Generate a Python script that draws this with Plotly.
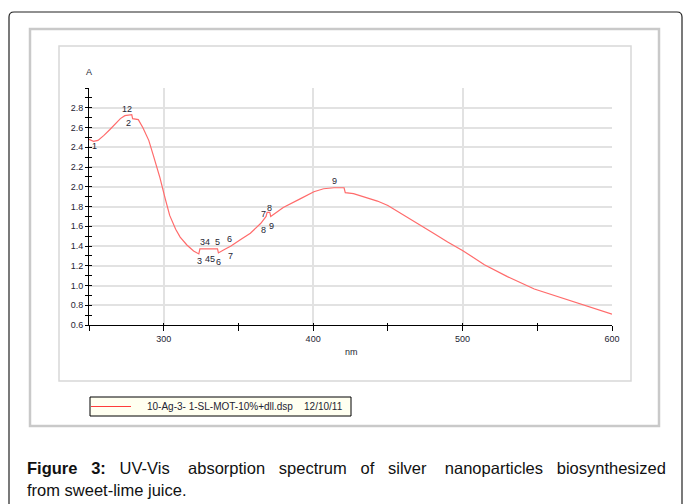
import plotly.graph_objects as go

# ---- data ----
wavelength_nm = [250, 253, 256, 260, 264, 268, 271, 274, 278.6, 279.2, 283, 286, 290, 293,
                 297.5, 301, 304, 308, 311, 315.5, 320, 323.5, 324.2, 336, 336.6, 340, 345,
                 351, 358, 365, 368.5, 369.2, 371, 371.6, 380, 391.6, 400.5, 407, 414, 420.7,
                 421.5, 427, 436, 443, 450, 460, 470, 480, 490, 500.5, 514.6, 530, 548, 560,
                 575, 588.5, 600]
absorbance = [2.48, 2.46, 2.47, 2.52, 2.58, 2.64, 2.69, 2.72, 2.73, 2.69, 2.68, 2.60, 2.47, 2.32,
              2.09, 1.88, 1.71, 1.57, 1.49, 1.41, 1.35, 1.32, 1.37, 1.37, 1.33, 1.36, 1.40,
              1.46, 1.53, 1.63, 1.70, 1.74, 1.74, 1.70, 1.79, 1.88, 1.95, 1.98, 1.99, 1.99,
              1.94, 1.93, 1.89, 1.855, 1.81, 1.72, 1.63, 1.535, 1.44, 1.35, 1.21, 1.09, 0.965, 0.905,
              0.83, 0.76, 0.71]

peak_text = ["1", "12", "2", "34", "5", "6", "3", "45", "6", "7", "7", "8", "8", "9", "9"]
peak_x = [254, 275.6, 276.2, 327.9, 335.7, 344, 324, 331.2, 336.8, 344.6, 366.6, 370.8, 367, 372.1, 414.4]
peak_y = [2.41, 2.79, 2.65, 1.437, 1.44, 1.467, 1.246, 1.27, 1.243, 1.30, 1.72, 1.78, 1.56, 1.60, 2.06]

x_ticks = [300, 400, 500, 600]
y_ticks = [0.6, 0.8, 1.0, 1.2, 1.4, 1.6, 1.8, 2.0, 2.2, 2.4, 2.6, 2.8]
y_labels = ["%.1f" % v for v in y_ticks]

series_name = "10-Ag-3- 1-SL-MOT-10%+dll.dsp&nbsp;&nbsp;&nbsp;&nbsp;12/10/11"

S3 = "&nbsp;&nbsp;&nbsp; "
S2 = "&nbsp;&nbsp; "
caption_line1 = ("<b>Figure" + S2 + "3:</b>" + S2 + "UV-Vis" + S3 + "absorption" + S2 + "spectrum" + S2 +
                 "of" + S2 + "silver" + S3 + "nanoparticles" + S2 + "biosynthesized")
caption_line2 = "from sweet-lime juice."

# ---- layout geometry ----
WIDTH, HEIGHT = 683, 504
L, T, PW, PH = 89, 88, 523, 237


def fx(px):
    return (px - L) / PW


def fy(py):
    return (T + PH - py) / PH


FONT = "Liberation Sans, Arial, sans-serif"
TXT = "#1e2433"
CURVE = "#ff6b6b"

fig = go.Figure()
fig.add_trace(go.Scatter(x=wavelength_nm, y=absorbance, mode="lines",
                         line=dict(color=CURVE, width=1.2),
                         name="spectrum", showlegend=False, hoverinfo="skip"))
# invisible trace to carry the crossing (inside) tick marks
fig.add_trace(go.Scatter(x=wavelength_nm, y=absorbance, mode="none", xaxis="x2", yaxis="y2",
                         showlegend=False, hoverinfo="skip"))

for t, xv, yv in zip(peak_text, peak_x, peak_y):
    fig.add_annotation(x=xv, y=yv, text=t, showarrow=False,
                       font=dict(family=FONT, size=9, color=TXT))

fig.add_annotation(xref="paper", yref="paper", x=0, y=fy(72), xanchor="center", yanchor="middle",
                   text="A", showarrow=False, font=dict(family=FONT, size=9, color=TXT))
fig.add_annotation(xref="paper", yref="paper", x=fx(351), y=fy(359), text="nm", showarrow=False,
                   font=dict(family=FONT, size=9, color=TXT))
fig.add_annotation(xref="paper", yref="paper", x=fx(25), y=fy(468), xanchor="left", yanchor="middle",
                   text=caption_line1, showarrow=False, align="left",
                   font=dict(family=FONT, size=16.5, color="#111"))
fig.add_annotation(xref="paper", yref="paper", x=fx(25), y=fy(490), xanchor="left", yanchor="middle",
                   text=caption_line2, showarrow=False, align="left",
                   font=dict(family=FONT, size=16.5, color="#111"))

# frames
fig.add_shape(type="rect", xref="paper", yref="paper", x0=fx(30), x1=fx(659), y0=fy(29), y1=fy(426),
              line=dict(color="#c9c9c9", width=2.5), layer="below")
fig.add_shape(type="rect", xref="paper", yref="paper", x0=fx(59), x1=fx(631), y0=fy(46), y1=fy(381),
              line=dict(color="#d8d8d8", width=1.5), layer="below")
r = 5
path = (f"M {fx(9)},{fy(520)} L {fx(9)},{fy(12 + r)} Q {fx(9)},{fy(12)} {fx(9 + r)},{fy(12)} "
        f"L {fx(682 - r)},{fy(12)} Q {fx(682)},{fy(12)} {fx(682)},{fy(12 + r)} L {fx(682)},{fy(520)}")
fig.add_shape(type="path", xref="paper", yref="paper", path=path,
              line=dict(color="#222", width=1.2), layer="below")

# legend box (drawn as decoration)
fig.add_shape(type="rect", xref="paper", yref="paper", x0=fx(90), x1=fx(351), y0=fy(397), y1=fy(416),
              line=dict(color="black", width=1), fillcolor="#fffff0", layer="above")
fig.add_shape(type="line", xref="paper", yref="paper", x0=fx(91), x1=fx(131), y0=fy(406.5), y1=fy(406.5),
              line=dict(color="#ff3b3b", width=1.2), layer="above")
fig.add_annotation(xref="paper", yref="paper", x=fx(145), y=fy(406.5), xanchor="left", yanchor="middle",
                   text=series_name, showarrow=False, font=dict(family=FONT, size=10, color=TXT))

axis_font = dict(family=FONT, size=9, color=TXT)
fig.update_layout(
    width=WIDTH, height=HEIGHT,
    margin=dict(l=L, r=WIDTH - L - PW, t=T, b=HEIGHT - T - PH),
    paper_bgcolor="white", plot_bgcolor="white",
    showlegend=False,
    xaxis=dict(range=[250, 600], tickmode="array", tickvals=x_ticks, ticktext=[str(v) for v in x_ticks],
               showgrid=True, gridcolor="#e2e2e2", gridwidth=1.5, zeroline=False,
               showline=True, linecolor="black", linewidth=1,
               ticks="outside", ticklen=5, tickcolor="black", tickwidth=1,
               minor=dict(tick0=250, dtick=50, ticks="outside", ticklen=5, tickcolor="black", showgrid=False),
               tickfont=axis_font, fixedrange=True),
    yaxis=dict(range=[0.6, 3.0], tickmode="array", tickvals=y_ticks, ticktext=y_labels,
               showgrid=True, gridcolor="#e2e2e2", gridwidth=1.5, zeroline=False,
               showline=True, linecolor="black", linewidth=1,
               ticks="outside", ticklen=3, tickcolor="black", tickwidth=1,
               minor=dict(tick0=0.6, dtick=0.1, ticks="outside", ticklen=3, tickcolor="black", showgrid=False),
               tickfont=axis_font, fixedrange=True),
    xaxis2=dict(range=[250, 600], overlaying="x", anchor="y2", side="bottom",
                tickmode="array", tickvals=x_ticks, showticklabels=False, showgrid=False,
                zeroline=False, showline=False, ticks="inside", ticklen=2, tickcolor="black",
                minor=dict(tick0=250, dtick=50, ticks="inside", ticklen=2, tickcolor="black", showgrid=False)),
    yaxis2=dict(range=[0.6, 3.0], overlaying="y", anchor="x2", side="left",
                tickmode="array", tickvals=y_ticks, showticklabels=False, showgrid=False,
                zeroline=False, showline=False, ticks="inside", ticklen=3, tickcolor="black",
                minor=dict(tick0=0.6, dtick=0.1, ticks="inside", ticklen=3, tickcolor="black", showgrid=False)),
)

fig.write_html("out.html")
